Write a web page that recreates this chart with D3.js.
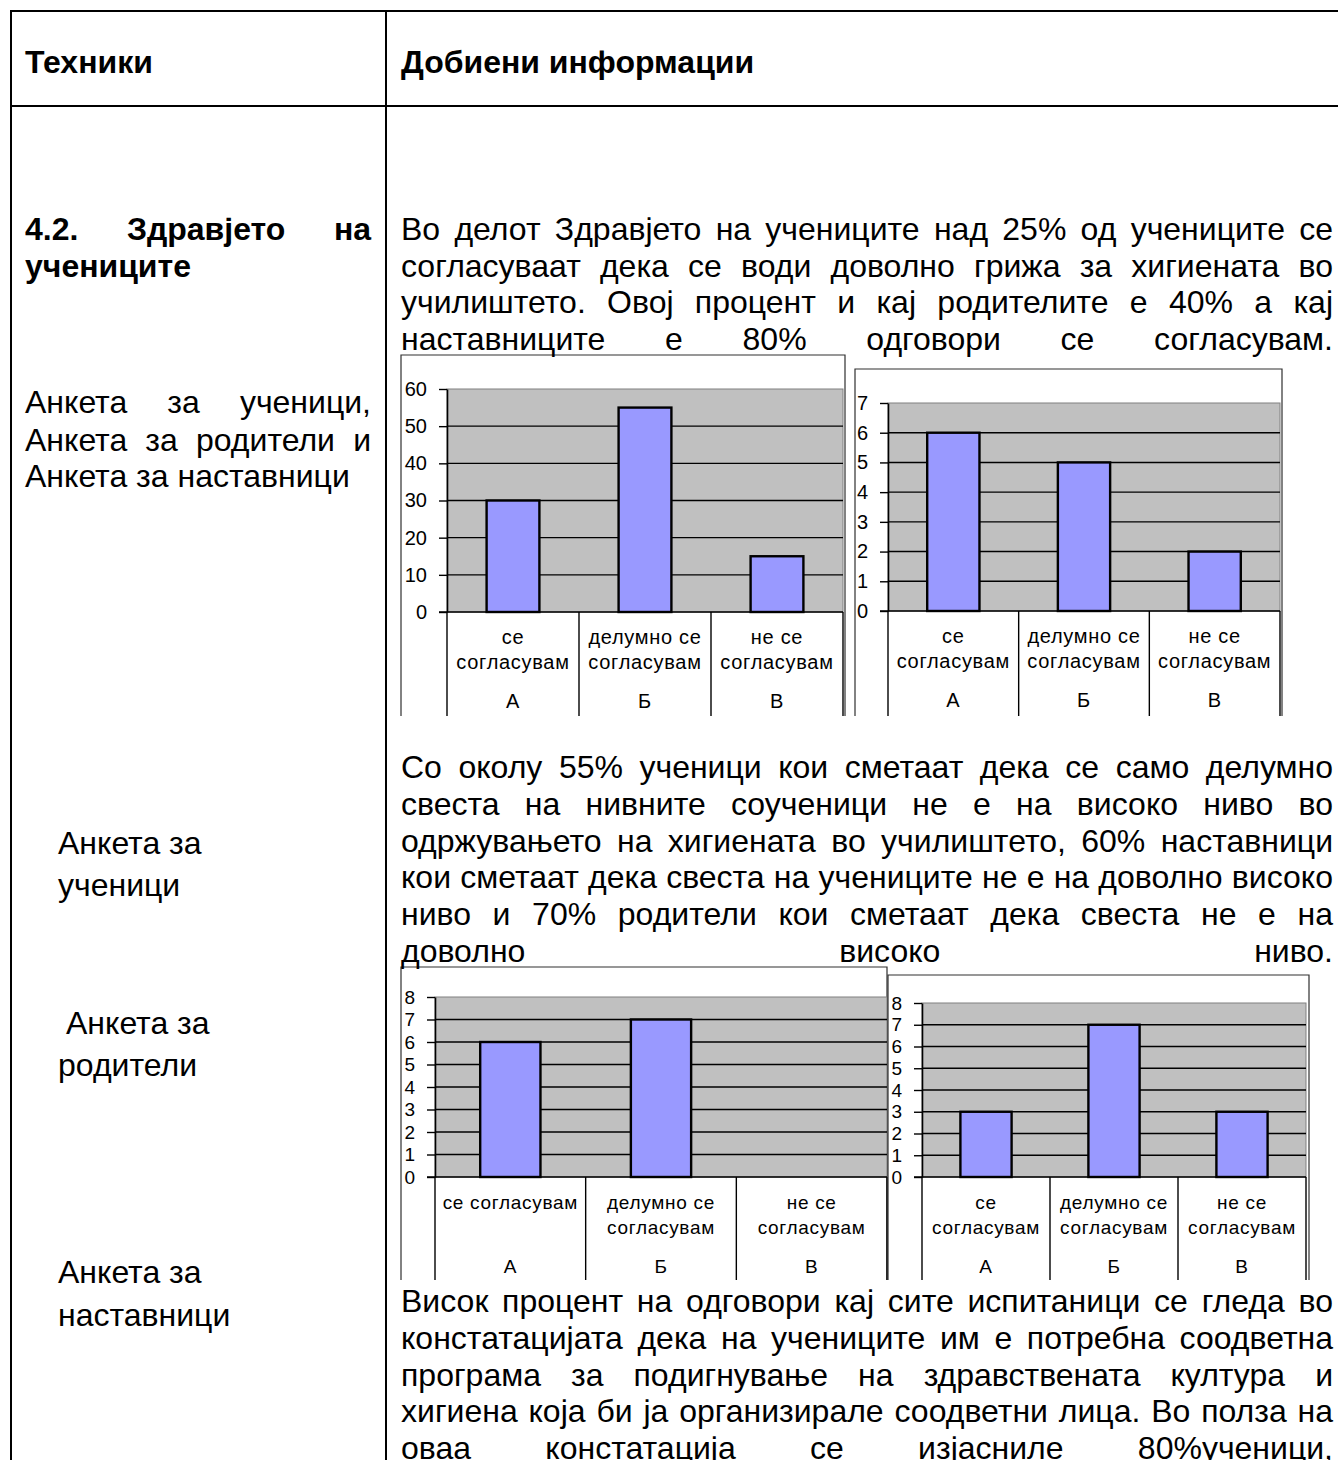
<!DOCTYPE html>
<html>
<head>
<meta charset="utf-8">
<title>Здравјето на учениците</title>
<script src="https://d3js.org/d3.v7.min.js"></script>
<style>
  body { margin:0; background:#fff; width:1338px; height:1460px; overflow:hidden; position:relative;
         font-family:"Liberation Sans", Arial, sans-serif; }
  svg { position:absolute; left:0; top:0; }
  .ln { position:absolute; font-size:32px; line-height:37px; height:37px; white-space:nowrap; color:#000; }
  .ln.j { text-align:justify; text-align-last:justify; white-space:normal; }
  .ln.b { font-weight:bold; }
</style>
</head>
<body>
<script>
// chart data
const catsTwoLine = [["се", "согласувам"], ["делумно се", "согласувам"], ["не се", "согласувам"]];
const catsOneLine = [["се согласувам"], ["делумно се", "согласувам"], ["не се", "согласувам"]];
const letters = ["А", "Б", "В"];

const hygieneStudents = [30, 55, 15];
const hygieneParents = [6, 5, 2];
const awarenessParents = [6, 7, 0];
const awarenessTeachers = [3, 7, 3];

const ticks60 = [0, 10, 20, 30, 40, 50, 60];
const ticks7 = [0, 1, 2, 3, 4, 5, 6, 7];
const ticks8 = [0, 1, 2, 3, 4, 5, 6, 7, 8];

// text of the page, line by line
const header = [
  { x: 25, y: 62, w: 0, t: "Техники", b: true },
  { x: 401, y: 62, w: 0, t: "Добиени информации", b: true }
];
const leftCol = [
  { x: 25, y: 229, w: 346, t: "4.2. Здравјето на", b: true, j: true },
  { x: 25, y: 266, w: 0, t: "учениците", b: true },
  { x: 25, y: 402, w: 346, t: "Анкета за ученици,", j: true },
  { x: 25, y: 440, w: 346, t: "Анкета за  родители и", j: true },
  { x: 25, y: 476, w: 0, t: "Анкета за наставници" },
  { x: 58, y: 843, w: 0, t: "Анкета за" },
  { x: 58, y: 885, w: 0, t: "ученици" },
  { x: 66, y: 1023, w: 0, t: "Анкета за" },
  { x: 58, y: 1065, w: 0, t: "родители" },
  { x: 58, y: 1272, w: 0, t: "Анкета за" },
  { x: 58, y: 1315, w: 0, t: "наставници" }
];
const para1 = [
  "Во делот Здравјето на учениците над 25% од учениците се",
  "согласуваат дека се води доволно грижа за хигиената во",
  "училиштето. Овој процент  и кај родителите е 40%  а кај",
  "наставниците е 80% одговори се согласувам."
];
const para2 = [
  "Со околу 55% ученици кои сметаат дека се само делумно",
  "свеста на нивните соученици не е на високо ниво во",
  "одржувањето на хигиената во училиштето, 60% наставници",
  "кои сметаат дека свеста на учениците не е на доволно високо",
  "ниво и 70% родители кои сметаат дека свеста не е на",
  "доволно високо ниво."
];
const para3 = [
  "Висок процент на одговори кај сите испитаници се гледа во",
  "констатацијата дека на учениците им е потребна  соодветна",
  "програма за подигнување на здравствената култура и",
  "хигиена која би ја организирале соодветни лица. Во полза на",
  "оваа констатација се изјасниле 80%ученици,"
];

const W = 1338, H = 1460;
const svg = d3.select("body").append("svg").attr("width", W).attr("height", H);

// table grid
const grid = svg.append("g").attr("stroke", "#000").attr("stroke-width", 2);
grid.append("line").attr("x1", 11).attr("x2", 11).attr("y1", 10).attr("y2", H);
grid.append("line").attr("x1", 386).attr("x2", 386).attr("y1", 10).attr("y2", H);
grid.append("line").attr("x1", 10).attr("x2", W).attr("y1", 11).attr("y2", 11);
grid.append("line").attr("x1", 10).attr("x2", W).attr("y1", 106).attr("y2", 106);

// text lines
function addLines(lines) {
  lines.forEach(d => {
    const div = d3.select("body").append("div")
      .attr("class", "ln" + (d.b ? " b" : "") + (d.j ? " j" : ""))
      .style("left", d.x + "px")
      .style("top", (d.y - 18) + "px")
      .text(d.t);
    if (d.w) div.style("width", d.w + "px");
  });
}
addLines(header);
addLines(leftCol);
const paraLines = (arr, y0, step) => arr.map((t, i) => ({ x: 401, y: y0 + i * step, w: 932, t: t, j: true }));
addLines(paraLines(para1, 229, 36.5));
addLines(paraLines(para2, 767, 36.8));
addLines(paraLines(para3, 1301, 36.8));

// the four excel-like bar charts
const charts = [
  { frame: [401, 355, 845, 716], plot: [447, 389, 843, 612], max: 60, ticks: ticks60, values: hygieneStudents, cats: catsTwoLine, fs: 20 },
  { frame: [855, 369, 1282, 716], plot: [888, 403, 1280, 611], max: 7, ticks: ticks7, values: hygieneParents, cats: catsTwoLine, fs: 20 },
  { frame: [401, 967, 887, 1280], plot: [435, 997, 887, 1177], max: 8, ticks: ticks8, values: awarenessParents, cats: catsOneLine, fs: 19 },
  { frame: [888, 975, 1309, 1280], plot: [922, 1003, 1306, 1177], max: 8, ticks: ticks8, values: awarenessTeachers, cats: catsTwoLine, fs: 19 }
];

charts.forEach(c => {
  const [fx0, fy0, fx1, fy1] = c.frame;
  const [px0, py0, px1, py1] = c.plot;
  const g = svg.append("g").style("font-family", "'Liberation Sans', Arial, sans-serif");

  g.append("rect").attr("x", fx0).attr("y", fy0).attr("width", fx1 - fx0).attr("height", fy1 - fy0).attr("fill", "#fff");
  g.append("path").attr("d", `M${fx0},${fy1}V${fy0}H${fx1}V${fy1}`)
    .attr("fill", "none").attr("stroke", "#303030").attr("stroke-width", 1.2);

  const x = d3.scaleBand().domain(d3.range(c.values.length)).range([px0, px1]);
  const y = d3.scaleLinear().domain([0, c.max]).range([py1, py0]);

  g.append("rect").attr("x", px0).attr("y", py0).attr("width", px1 - px0).attr("height", py1 - py0)
    .attr("fill", "#c0c0c0").attr("stroke", "#808080").attr("stroke-width", 1);

  g.append("g").selectAll("line")
    .data(c.ticks.filter(t => t > 0 && t < c.max))
    .join("line")
    .attr("x1", px0).attr("x2", px1)
    .attr("y1", d => y(d)).attr("y2", d => y(d))
    .attr("stroke", "#000").attr("stroke-width", 1.4);

  const bw = x.bandwidth();
  g.append("g").selectAll("rect")
    .data(c.values.map((v, i) => ({ v, i })).filter(d => d.v > 0))
    .join("rect")
    .attr("x", d => x(d.i) + bw * 0.3)
    .attr("width", bw * 0.4)
    .attr("y", d => y(d.v))
    .attr("height", d => y(0) - y(d.v))
    .attr("fill", "#9999ff").attr("stroke", "#000").attr("stroke-width", 2.4);

  const ax = g.append("g").attr("transform", `translate(${px0},0)`)
    .call(d3.axisLeft(y).tickValues(c.ticks).tickSize(8).tickSizeOuter(0).tickPadding(12).tickFormat(d3.format("d")));
  ax.select(".domain").attr("stroke", "#000").attr("stroke-width", 1.6);
  ax.selectAll(".tick line").attr("stroke", "#000").attr("stroke-width", 1.4);
  ax.selectAll(".tick text").attr("font-size", c.fs).attr("font-family", "'Liberation Sans', Arial, sans-serif").attr("fill", "#000");

  // category axis
  g.append("line").attr("x1", px0 - 8).attr("x2", px1).attr("y1", y(0)).attr("y2", y(0))
    .attr("stroke", "#000").attr("stroke-width", 1.6);
  const bounds = x.domain().map(i => x(i)).concat([px1]);
  g.append("g").selectAll("line").data(bounds).join("line")
    .attr("x1", d => d).attr("x2", d => d).attr("y1", y(0)).attr("y2", fy1)
    .attr("stroke", "#000").attr("stroke-width", 1.4);

  const lab = g.append("g").attr("font-size", c.fs).attr("text-anchor", "middle").attr("fill", "#000")
    .style("letter-spacing", "0.7px");
  c.cats.forEach((lines, i) => {
    const cx = x(i) + bw / 2;
    lines.forEach((t, k) => {
      lab.append("text").attr("x", cx).attr("y", y(0) + 25 + k * 25).attr("dy", "0.35em").text(t);
    });
    lab.append("text").attr("x", cx).attr("y", y(0) + 89).attr("dy", "0.35em").text(letters[i]);
  });
});
</script>
</body>
</html>
